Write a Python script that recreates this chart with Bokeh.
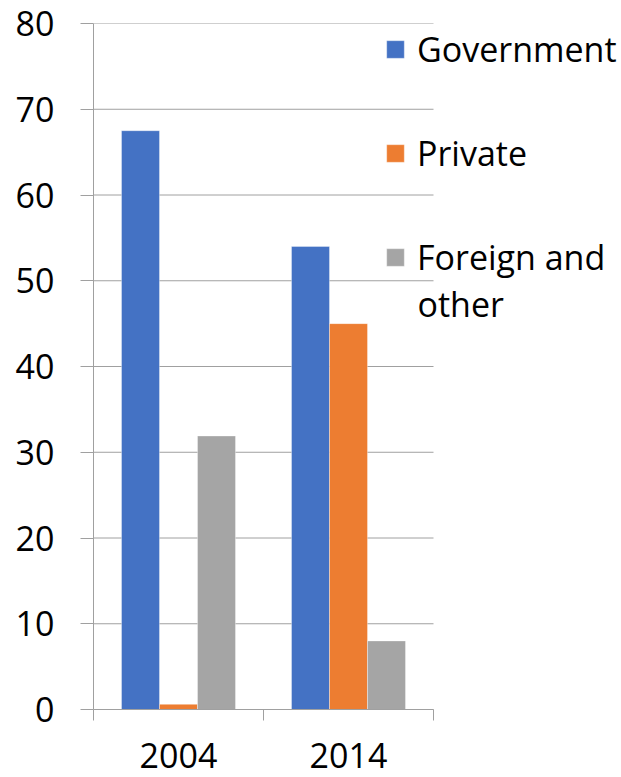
from bokeh.plotting import figure
from bokeh.models import Range1d, FixedTicker, Legend, LegendItem, Label
from bokeh.embed import file_html
from bokeh.resources import INLINE

years = ["2004", "2014"]
series = ["Government", "Private", "Foreign and"]
series_extra_line = "other"
government = [67.5, 54.0]
private = [0.6, 45.0]
foreign = [31.9, 8.0]
colors = ["#4472C4", "#ED7D31", "#A5A5A5"]
y_ticks = [0, 10, 20, 30, 40, 50, 60, 70, 80]

FONT = "Open Sans"
FS = "34px"
GRID = "#a0a0a0"

W, H = 621, 777
FRAME_L, PLOT_R, FRAME_T, FRAME_B = 93, 433, 23, 709
n = len(years)
x_end = n * (W - FRAME_L) / (PLOT_R - FRAME_L)

p = figure(width=W, height=H, output_backend="svg", toolbar_location=None,
           x_range=Range1d(0, x_end), y_range=Range1d(0, 80),
           min_border_left=FRAME_L, min_border_right=0, min_border_top=FRAME_T,
           min_border_bottom=H - FRAME_B)
p.outline_line_color = None
p.background_fill_color = "white"
p.xgrid.visible = False
p.ygrid.visible = False

# horizontal gridlines limited to the plot area
p.segment(x0=[0] * len(y_ticks), x1=[n] * len(y_ticks), y0=y_ticks, y1=y_ticks,
          line_color=GRID, line_width=1)

bar_w = 0.2235
offsets = [-bar_w, 0.0, bar_w]
renderers = []
for vals, off, col in zip([government, private, foreign], offsets, colors):
    xs = [i + 0.5 + off for i in range(n)]
    r = p.vbar(x=xs, top=vals, bottom=0, width=bar_w, fill_color=col,
               line_color="#ffffff", line_alpha=0.35, line_width=1)
    renderers.append(r)

# y axis
ya = p.yaxis[0]
ya.ticker = FixedTicker(ticks=y_ticks)
ya.major_tick_out = 13
ya.major_tick_in = 0
ya.minor_tick_line_color = None
ya.major_tick_line_color = GRID
ya.axis_line_color = GRID
ya.major_label_standoff = 26
ya.major_label_text_font = FONT
ya.major_label_text_font_size = FS
ya.major_label_text_color = "black"

# x axis
xa = p.xaxis[0]
xa.bounds = (0, n)
xa.ticker = FixedTicker(ticks=[i + 0.5 for i in range(n)],
                        minor_ticks=list(range(n + 1)))
xa.major_label_overrides = {i + 0.5: y for i, y in enumerate(years)}
xa.major_tick_out = 0
xa.major_tick_in = 0
xa.minor_tick_out = 11
xa.minor_tick_in = 0
xa.minor_tick_line_color = GRID
xa.axis_line_color = GRID
xa.major_label_standoff = 22
xa.major_label_text_font = FONT
xa.major_label_text_font_size = FS
xa.major_label_text_color = "black"

legend = Legend(items=[LegendItem(label=s, renderers=[r]) for s, r in zip(series, renderers)],
                location=(384 - FRAME_L, FRAME_B - 257 - 23))
legend.glyph_width = 22
legend.glyph_height = 22
legend.label_standoff = 11
legend.label_text_font = FONT
legend.label_text_font_size = FS
legend.label_text_color = "black"
legend.spacing = 58
legend.padding = 0
legend.margin = 0
legend.border_line_color = None
legend.background_fill_alpha = 0
p.add_layout(legend, "center")

p.add_layout(Label(x=417 - FRAME_L, y=FRAME_B - 303, x_units="screen", y_units="screen",
                   text=series_extra_line, text_font=FONT, text_font_size=FS,
                   text_color="black", text_baseline="alphabetic", text_align="left"))

open("out.html", "w").write(file_html(p, INLINE))
